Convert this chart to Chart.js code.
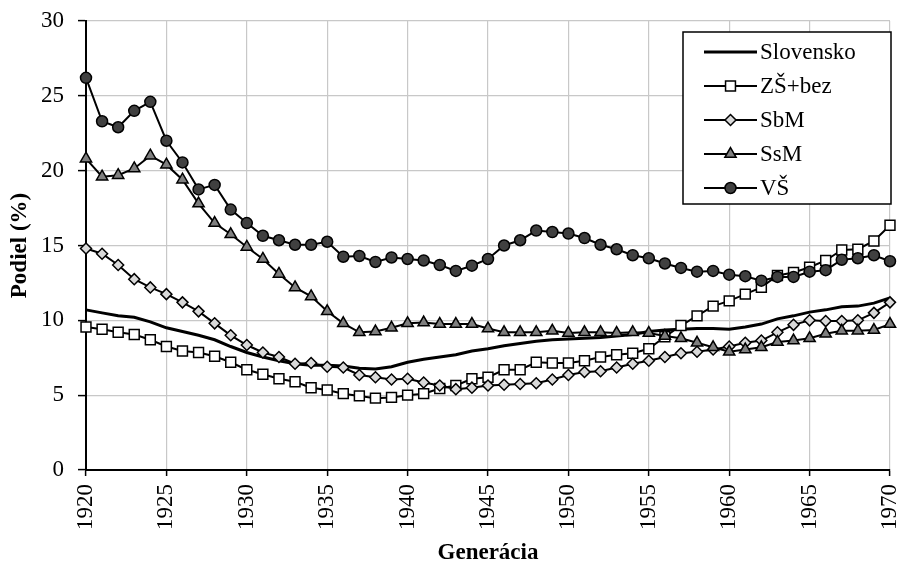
<!DOCTYPE html>
<html>
<head>
<meta charset="utf-8">
<script src="https://cdn.jsdelivr.net/npm/chart.js@4.4.1/dist/chart.umd.min.js"></script>
<style>
    html, body { margin: 0; padding: 0; background: #fff; }
    #chart { display: block; }
</style>
</head>
<body>
<canvas id="chart" width="899" height="564"></canvas>
<script>
const years = [
    1920, 1921, 1922, 1923, 1924, 1925, 1926, 1927, 1928, 1929,
    1930, 1931, 1932, 1933, 1934, 1935, 1936, 1937, 1938, 1939,
    1940, 1941, 1942, 1943, 1944, 1945, 1946, 1947, 1948, 1949,
    1950, 1951, 1952, 1953, 1954, 1955, 1956, 1957, 1958, 1959,
    1960, 1961, 1962, 1963, 1964, 1965, 1966, 1967, 1968, 1969, 1970,
];

const slovensko = [
    10.7, 10.5, 10.3, 10.2, 9.9, 9.5, 9.25, 9.0, 8.7, 8.25,
    7.85, 7.55, 7.3, 7.1, 7.0, 7.0, 6.95, 6.8, 6.75, 6.9,
    7.2, 7.4, 7.55, 7.7, 7.95, 8.1, 8.3, 8.45, 8.6, 8.7,
    8.75, 8.8, 8.85, 8.95, 9.05, 9.25, 9.35, 9.4, 9.45, 9.45,
    9.4, 9.55, 9.75, 10.1, 10.3, 10.55, 10.7, 10.9, 10.95, 11.15, 11.5,
];

const zsBez = [
    9.55, 9.4, 9.2, 9.05, 8.7, 8.25, 7.95, 7.85, 7.6, 7.2,
    6.7, 6.4, 6.1, 5.9, 5.5, 5.35, 5.1, 4.95, 4.8, 4.85,
    5.0, 5.1, 5.45, 5.65, 6.1, 6.2, 6.7, 6.7, 7.2, 7.15,
    7.15, 7.3, 7.55, 7.7, 7.8, 8.1, 8.9, 9.65, 10.3, 10.95,
    11.3, 11.75, 12.2, 13.0, 13.2, 13.55, 14.0, 14.7, 14.75, 15.3, 16.35,
];

const sbm = [
    14.8, 14.45, 13.7, 12.75, 12.2, 11.75, 11.2, 10.6, 9.8, 9.0,
    8.35, 7.85, 7.55, 7.1, 7.15, 6.9, 6.85, 6.35, 6.2, 6.05,
    6.1, 5.85, 5.65, 5.4, 5.5, 5.65, 5.7, 5.75, 5.8, 6.05,
    6.35, 6.55, 6.6, 6.85, 7.1, 7.3, 7.55, 7.8, 7.9, 8.05,
    8.25, 8.5, 8.65, 9.2, 9.7, 10.0, 9.95, 9.95, 10.0, 10.5, 11.2,
];

const ssm = [
    20.8, 19.6, 19.7, 20.15, 21.0, 20.4, 19.4, 17.8, 16.5, 15.75,
    14.9, 14.1, 13.1, 12.2, 11.6, 10.6, 9.8, 9.2, 9.25, 9.5,
    9.8, 9.85, 9.75, 9.75, 9.75, 9.45, 9.2, 9.2, 9.2, 9.3,
    9.15, 9.2, 9.2, 9.15, 9.2, 9.15, 8.95, 8.8, 8.5, 8.2,
    7.9, 8.05, 8.2, 8.55, 8.65, 8.8, 9.1, 9.3, 9.3, 9.35, 9.75,
];

const vs = [
    26.2, 23.3, 22.9, 24.0, 24.6, 22.0, 20.55, 18.75, 19.05, 17.4,
    16.5, 15.65, 15.35, 15.05, 15.05, 15.25, 14.25, 14.3, 13.9, 14.2,
    14.1, 14.0, 13.7, 13.3, 13.65, 14.1, 15.0, 15.35, 16.0, 15.9,
    15.8, 15.5, 15.05, 14.75, 14.35, 14.15, 13.8, 13.5, 13.25, 13.3,
    13.05, 12.95, 12.65, 12.9, 12.9, 13.25, 13.35, 14.05, 14.15, 14.35, 13.95,
];

const yTicks = [0, 5, 10, 15, 20, 25, 30];

const FONT = "'Liberation Serif', 'Times New Roman', serif";

function toPoints(values) {
    return years.map((year, i) => ({ x: year, y: values[i] }));
}

function markerSeries(label, values, style, radius, fill, order) {
    return {
        label,
        data: toPoints(values),
        borderColor: '#000',
        borderWidth: 2,
        pointStyle: style,
        pointRadius: radius,
        pointBackgroundColor: fill,
        pointBorderColor: '#000',
        pointBorderWidth: 1.5,
        tension: 0,
        clip: false,
        order,
    };
}

// legend drawn inside the plot, like the original
function drawMarker(ctx, style, x, y, r) {
    ctx.beginPath();
    if (style === 'circle') {
        ctx.arc(x, y, r, 0, Math.PI * 2);
    } else if (style === 'rect') {
        const s = r * Math.SQRT1_2;
        ctx.rect(x - s, y - s, 2 * s, 2 * s);
    } else if (style === 'rectRot') {
        ctx.moveTo(x - r, y);
        ctx.lineTo(x, y - r);
        ctx.lineTo(x + r, y);
        ctx.lineTo(x, y + r);
        ctx.closePath();
    } else if (style === 'triangle') {
        const a = Math.PI * 2 / 3;
        ctx.moveTo(x, y - r);
        ctx.lineTo(x + Math.sin(a) * r, y - Math.cos(a) * r);
        ctx.lineTo(x - Math.sin(a) * r, y - Math.cos(a) * r);
        ctx.closePath();
    }
    ctx.fill();
    ctx.stroke();
}

const boxLegend = {
    id: 'boxLegend',
    afterDraw(chart) {
        const ctx = chart.ctx;
        const left = 683, top = 32, width = 208, height = 172;
        ctx.save();
        ctx.fillStyle = '#fff';
        ctx.strokeStyle = '#000';
        ctx.lineWidth = 1.5;
        ctx.fillRect(left, top, width, height);
        ctx.strokeRect(left, top, width, height);

        chart.data.datasets.forEach((ds, i) => {
            const y = 52 + i * 34;
            ctx.strokeStyle = '#000';
            ctx.lineWidth = ds.borderWidth;
            ctx.beginPath();
            ctx.moveTo(704, y);
            ctx.lineTo(757, y);
            ctx.stroke();
            if (ds.pointRadius > 0) {
                ctx.fillStyle = ds.pointBackgroundColor;
                ctx.lineWidth = ds.pointBorderWidth;
                drawMarker(ctx, ds.pointStyle, 730.5, y, ds.pointRadius);
            }
            ctx.fillStyle = '#000';
            ctx.font = `23px ${FONT}`;
            ctx.textAlign = 'left';
            ctx.textBaseline = 'middle';
            ctx.fillText(ds.label, 760, y + 1);
        });
        ctx.restore();
    },
};

Chart.defaults.color = '#000';
Chart.defaults.font.family = FONT;

new Chart(document.getElementById('chart'), {
    type: 'line',
    data: {
        datasets: [
            {
                label: 'Slovensko',
                data: toPoints(slovensko),
                borderColor: '#000',
                borderWidth: 3,
                pointRadius: 0,
                tension: 0,
                clip: false,
                order: 5,
            },
            markerSeries('ZŠ+bez', zsBez, 'rect', 7, '#ffffff', 4),
            markerSeries('SbM', sbm, 'rectRot', 5.5, '#d9d9d9', 3),
            markerSeries('SsM', ssm, 'triangle', 6.5, '#7f7f7f', 2),
            markerSeries('VŠ', vs, 'circle', 5.5, '#404040', 1),
        ],
    },
    options: {
        responsive: false,
        animation: false,
        devicePixelRatio: 1,
        layout: { padding: { top: 21, right: 9, left: 0, bottom: 0 } },
        plugins: {
            legend: { display: false },
            tooltip: { enabled: false },
        },
        scales: {
            x: {
                type: 'linear',
                min: 1920,
                max: 1970,
                ticks: {
                    stepSize: 5,
                    minRotation: 90,
                    maxRotation: 90,
                    padding: 8,
                    font: { size: 23 },
                    callback: (v) => String(v),
                },
                grid: {
                    color: '#c8c8c8',
                    lineWidth: 1.2,
                    tickColor: '#000',
                    tickLength: 6,
                    tickWidth: 1.5,
                },
                border: { color: '#000', width: 2 },
                title: {
                    display: true,
                    text: 'Generácia',
                    font: { size: 23, weight: 'bold' },
                    padding: { top: 0, bottom: -3 },
                },
                afterFit(scale) {
                    scale.height = 94;
                    scale.paddingLeft = 0;
                    scale.paddingRight = 0;
                },
            },
            y: {
                min: 0,
                max: 30,
                afterBuildTicks(scale) {
                    scale.ticks = yTicks.map((v) => ({ value: v }));
                },
                ticks: {
                    padding: 14,
                    font: { size: 23 },
                },
                grid: {
                    color: '#c8c8c8',
                    lineWidth: 1.2,
                    tickColor: '#000',
                    tickLength: 8,
                    tickWidth: 1.5,
                },
                border: { color: '#000', width: 2 },
                title: {
                    display: true,
                    text: 'Podiel (%)',
                    font: { size: 23, weight: 'bold' },
                    padding: { top: 6, bottom: 0 },
                },
                afterFit(scale) {
                    scale.width = 86;
                    scale.paddingTop = 0;
                    scale.paddingBottom = 0;
                },
            },
        },
    },
    plugins: [boxLegend],
});
</script>
</body>
</html>
